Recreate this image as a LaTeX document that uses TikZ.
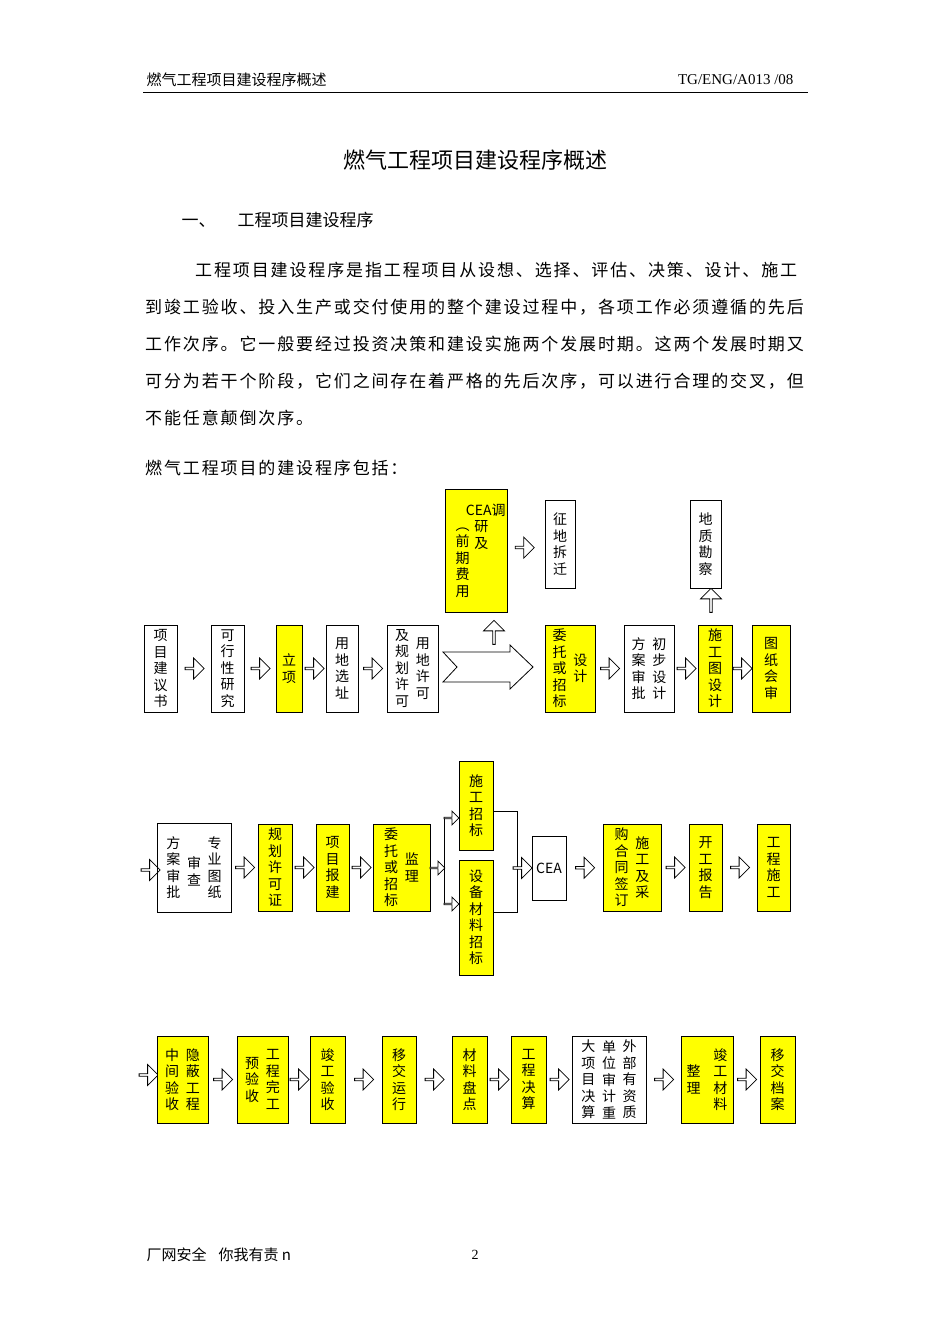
\documentclass[tikz,border=0pt]{standalone}
\usepackage{fontspec}
\setmainfont{Liberation Serif}
\newfontfamily\cjk{Noto Sans CJK SC}
\newfontfamily\cjkp[LetterSpace=11]{Noto Sans CJK SC}
\usetikzlibrary{shapes.arrows,calc}
\ExplSyntaxOn
\NewDocumentCommand\vcol{m}{\parbox[c]{1.05em}{\centering \tl_map_inline:nn {#1}{##1\par}}}
\ExplSyntaxOff
\definecolor{yel}{RGB}{255,255,0}
\tikzset{
 box/.style={draw,thick,inner sep=0,font=\cjk\fontsize{14}{16.5}\selectfont},
 yb/.style={box,fill=yel},
 harrow/.style={single arrow,draw,fill=white,thick,minimum height=19pt,minimum width=21pt,single arrow head extend=3pt,inner sep=0,single arrow tip angle=90},
 sarrow/.style={harrow,minimum height=15pt,minimum width=14pt},
 uarrow/.style={harrow,shape border rotate=90,minimum height=24pt},
}
\newcommand\bx[6]{\node[#1,minimum width=#4pt,minimum height=#5pt] (#2) at (#3) {#6};}
\begin{document}
\begin{tikzpicture}[x=1pt,y=-1pt]
\useasboundingbox (0,0) rectangle (950,1344);
% header
\node[anchor=west,font=\cjk\fontsize{15}{18}\selectfont] (h1) at (143,80) {燃气工程项目建设程序概述};
\node[anchor=east,font=\fontsize{15}{18}\selectfont] (h2) at (797,80) {TG/ENG/A013 /08};
\draw (143,92) -- (808,92);
\node[font=\cjk\fontsize{22}{26}\selectfont] (t) at (475,160) {燃气工程项目建设程序概述};
\node[anchor=west,font=\cjk\fontsize{17}{20}\selectfont] (s1) at (178,220) {一、\hspace{22pt}工程项目建设程序};
\begin{scope}[every node/.style={anchor=west,font=\cjkp\fontsize{17}{20}\selectfont,inner sep=0}]
\node (p1) at (195,270) {工程项目建设程序是指工程项目从设想、选择、评估、决策、设计、施工};
\node (p2) at (145,307) {到竣工验收、投入生产或交付使用的整个建设过程中，各项工作必须遵循的先后};
\node (p3) at (145,344) {工作次序。它一般要经过投资决策和建设实施两个发展时期。这两个发展时期又};
\node (p4) at (145,381) {可分为若干个阶段，它们之间存在着严格的先后次序，可以进行合理的交叉，但};
\node (p5) at (145,418) {不能任意颠倒次序。};
\node (p6) at (145,468) {燃气工程项目的建设程序包括：};
\end{scope}
\node[anchor=west,font=\cjk\fontsize{15}{18}\selectfont] (f1) at (143,1255) {厂网安全\hspace{12pt}你我有责 n};
\node[font=\fontsize{14}{16}\selectfont] (f2) at (475,1255) {2};
% row 1
\bx{box}{a1}{160.5,668.5}{33}{87}{\vcol{项目建议书}}
\bx{box}{a2}{227.5,668.5}{33}{87}{\vcol{可行性研究}}
\bx{yb}{a3}{289,668.5}{26}{87}{\vcol{立项}}
\bx{box}{a4}{342,668.5}{32}{87}{\vcol{用地选址}}
\bx{box}{a5}{412.5,668.5}{51}{87}{\vcol{及规划许可}\hspace{6pt}\vcol{用地许可}}
\bx{yb}{a6}{476,550.5}{62}{123}{\raisebox{-10pt}{\vcol{︵前期费用}}\hspace{-4pt}\raisebox{26pt}{\parbox{2.2em}{\centering\fontsize{14}{16.5}\selectfont CEA{\cjk 调}\\{\cjk 研}\\{\cjk 及}}}}
\bx{box}{a7}{560,544}{30}{88}{\vcol{征地拆迁}}
\bx{yb}{a8}{570,668.5}{50}{87}{\vcol{委托或招标}\hspace{6pt}\vcol{设计}}
\bx{box}{a9}{649,668.5}{50}{87}{\vcol{方案审批}\hspace{6pt}\vcol{初步设计}}
\bx{yb}{a10}{715,668.5}{34}{87}{\vcol{施工图设计}}
\bx{yb}{a11}{771,668.5}{38}{87}{\vcol{图纸会审}}
\bx{box}{a12}{705.5,544}{31}{88}{\vcol{地质勘察}}
\foreach \p/\q in {a1/a2,a2/a3,a3/a4,a4/a5,a8/a9,a9/a10,a10/a11}
  \node[harrow] at ($(\p.east)!.5!(\q.west)$) {};
\node[harrow] (ar1) at ($(a6.east)!.45!(a7.west)$) {};
\draw[thick,fill=white] (443,652) -- (510,652) -- (510,645) -- (533,667) -- (510,689) -- (510,682) -- (443,682) -- (457,667) -- cycle;
\node[uarrow] (u1) at (494,633) {};
\node[uarrow] (u2) at (711,601) {};
% row 2
\node[harrow] at (150,870) {};
\bx{box}{b1}{194,867.5}{74}{89}{\vcol{方案审批}\hspace{6pt}\raisebox{-4pt}{\vcol{审查}}\hspace{6pt}\vcol{专业图纸}}
\bx{yb}{b2}{275,867.5}{34}{87}{\vcol{规划许可证}}
\bx{yb}{b3}{332.5,867.5}{33}{87}{\vcol{项目报建}}
\bx{yb}{b4}{401.5,867.5}{57}{87}{\vcol{委托或招标}\hspace{6pt}\vcol{监理}}
\bx{yb}{b5}{476,805.5}{34}{89}{\vcol{施工招标}}
\bx{yb}{b6}{476,917.5}{34}{115}{\vcol{设备材料招标}}
\bx{box}{b7}{549,868}{34}{64}{\fontsize{14}{16}\selectfont CEA}
\bx{yb}{b8}{632,867.5}{58}{87}{\vcol{购合同签订}\hspace{6pt}\vcol{施工及采}}
\bx{yb}{b9}{705.5,867.5}{33}{87}{\vcol{开工报告}}
\bx{yb}{b10}{773.5,867.5}{33}{87}{\vcol{工程施工}}
\foreach \p/\q in {b1/b2,b2/b3,b3/b4,b7/b8,b8/b9,b9/b10}
  \node[harrow] at ($(\p.east)!.5!(\q.west)$) {};
\node[sarrow] at (437,868) {};
\draw[thick] (444,818) -- (444,905);
\node[sarrow] (s5) at (451,818) {};
\node[sarrow] (s6) at (451,904) {};
\draw[thick] (b5.east |- 0,811) -- (517,811) -- (517,912) -- (b6.east |- 0,912);
\node[harrow] at (522,868) {};
% row 3
\node[harrow] at (148,1075) {};
\bx{yb}{c1}{182.5,1079.5}{51}{87}{\vcol{中间验收}\hspace{6pt}\vcol{隐蔽工程}}
\bx{yb}{c2}{262.5,1079.5}{51}{87}{\vcol{预验收}\hspace{6pt}\vcol{工程完工}}
\bx{yb}{c3}{327.5,1079.5}{35}{87}{\vcol{竣工验收}}
\bx{yb}{c4}{399,1079.5}{34}{87}{\vcol{移交运行}}
\bx{yb}{c5}{469.5,1079.5}{35}{87}{\vcol{材料盘点}}
\bx{yb}{c6}{528.5,1079.5}{35}{87}{\vcol{工程决算}}
\bx{box}{c7}{609,1079.5}{74}{87}{\vcol{大项目决算}\hspace{6pt}\vcol{单位审计重}\hspace{6pt}\vcol{外部有资质}}
\bx{yb}{c8}{707,1079.5}{52}{87}{\vcol{整理}\hspace{12pt}\vcol{竣工材料}}
\bx{yb}{c9}{777.5,1079.5}{35}{87}{\vcol{移交档案}}
\foreach \p/\q in {c1/c2,c2/c3,c3/c4,c4/c5,c5/c6,c6/c7,c7/c8,c8/c9}
  \node[harrow] at ($(\p.east)!.5!(\q.west)$) {};
\end{tikzpicture}
\end{document}
